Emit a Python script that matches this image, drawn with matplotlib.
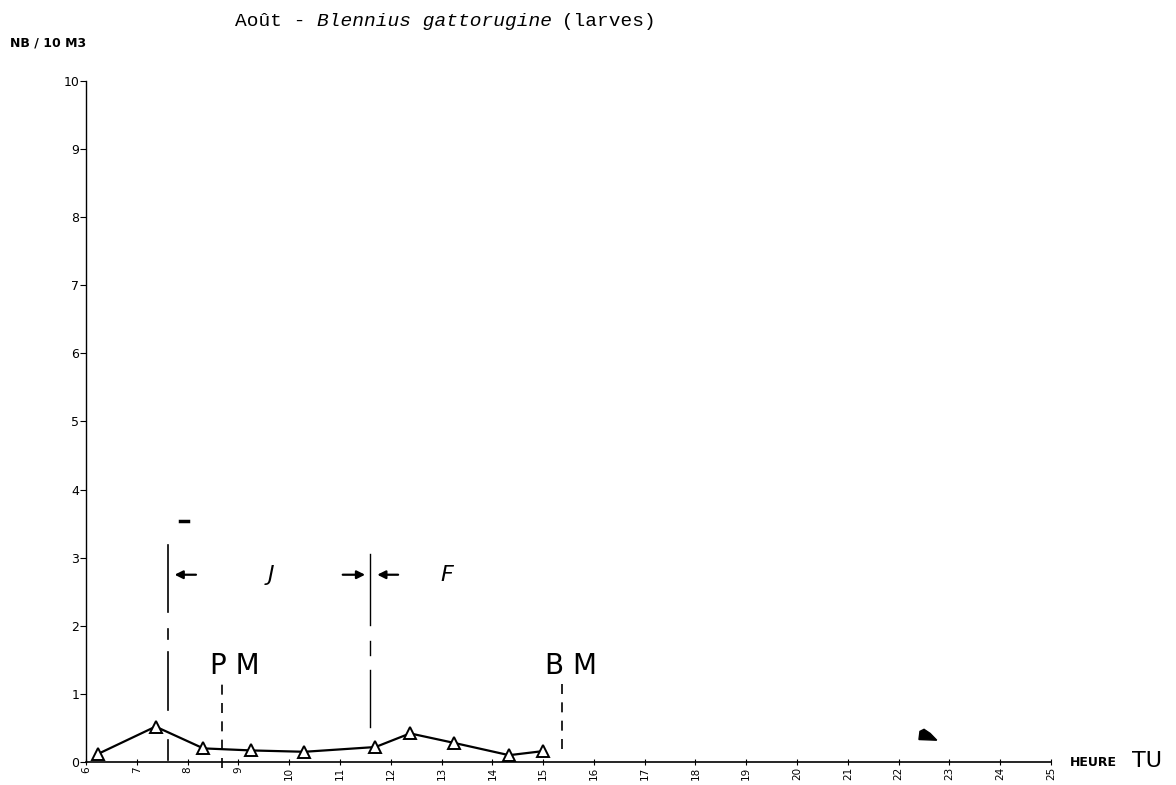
import matplotlib
matplotlib.use('Agg')
import matplotlib.pyplot as plt

# sampling times (heure TU) and larvae counts (NB / 10 m3)
hours = [6.24, 7.37, 8.31, 9.25, 10.3, 11.7, 12.38, 13.25, 14.33, 15.0]
counts = [0.12, 0.52, 0.2, 0.17, 0.15, 0.22, 0.42, 0.28, 0.1, 0.16]

x_ticks = list(range(6, 26))
y_ticks = list(range(0, 11))

# tide / day markers
day_start = 7.62      # J begins
night_start = 11.6    # F begins
high_tide = 8.68      # PM
low_tide = 15.37      # BM

W, H = 1176, 785
fig = plt.figure(figsize=(W / 100, H / 100), dpi=100)
ax = fig.add_axes([86 / W, 23 / H, 965 / W, 681 / H])

ax.plot(hours, counts, color='black', linewidth=1.6, marker='^', markersize=8,
        markerfacecolor='white', markeredgecolor='black', markeredgewidth=1.4,
        clip_on=False, zorder=3)

ax.set_xlim(6, 25)
ax.set_ylim(0, 10)
ax.set_xticks(x_ticks)
ax.set_yticks(y_ticks)
ax.set_xticklabels([str(h) for h in x_ticks], rotation=90, fontsize=7.5)
ax.set_yticklabels([str(v) for v in y_ticks], fontsize=9)
ax.tick_params(axis='x', direction='inout', length=5, width=0.8, pad=1)
ax.tick_params(axis='y', direction='out', length=4, width=0.8, pad=1)
for side in ['top', 'right']:
    ax.spines[side].set_visible(False)
ax.spines['left'].set_linewidth(1.0)
ax.spines['bottom'].set_linewidth(1.2)

# J and F boundaries (broken solid lines)
for y0, y1 in [(0.03, 0.32), (0.76, 1.61), (1.8, 1.95), (2.2, 3.19)]:
    ax.plot([day_start, day_start], [y0, y1], color='black', linewidth=1.2)
for y0, y1 in [(0.51, 1.35), (1.57, 1.77), (2.01, 3.05)]:
    ax.plot([night_start, night_start], [y0, y1], color='black', linewidth=1.0)

# PM / BM dashed lines
ax.plot([high_tide, high_tide], [-0.09, 1.22], color='black', linewidth=1.2,
        linestyle=(0, (6, 5)), clip_on=False)
ax.plot([low_tide, low_tide], [0.19, 1.17], color='black', linewidth=1.2,
        linestyle=(0, (6, 5)))

ax.text(8.93, 1.29, 'P M', fontsize=20, ha='center', va='baseline')
ax.text(15.54, 1.29, 'B M', fontsize=20, ha='center', va='baseline')

arrow = dict(arrowstyle='-|>', color='black', lw=1.6, mutation_scale=12)
ax.annotate('', xy=(7.69, 2.75), xytext=(8.22, 2.75), arrowprops=arrow)
ax.annotate('', xy=(11.55, 2.75), xytext=(11.0, 2.75), arrowprops=arrow)
ax.annotate('', xy=(11.68, 2.75), xytext=(12.2, 2.75), arrowprops=arrow)
ax.text(9.64, 2.75, 'J', fontsize=16, style='italic', ha='center', va='center')
ax.text(13.1, 2.75, 'F', fontsize=16, style='italic', ha='center', va='center')

# small marks present on the original sheet
ax.plot([7.86, 8.0], [3.54, 3.54], color='black', linewidth=2.5)
ax.fill([22.4, 22.42, 22.5, 22.62, 22.75], [0.33, 0.45, 0.48, 0.42, 0.32],
        color='black')

fig.text(10 / W, 1 - 43 / H, 'NB / 10 M3', fontsize=9, fontweight='bold',
         ha='left', va='center')

# title: monospaced, species name in italics
size = 14
char_w = size * 0.6 / 72 * 100 / W
x0, ty = 235 / W, 1 - 22 / H
parts = [('Août - ', 'normal'), ('Blennius gattorugine', 'italic'),
         (' (larves)', 'normal')]
for txt, st in parts:
    fig.text(x0, ty, txt, fontsize=size, family='Liberation Mono', style=st,
             ha='left', va='center')
    x0 += len(txt) * char_w

fig.text(1070 / W, 1 - 763 / H, 'HEURE', fontsize=9, fontweight='bold',
         ha='left', va='center')
fig.text(1132 / W, 1 - 761 / H, 'TU', fontsize=16, ha='left', va='center')

fig.savefig('out.png', dpi=100)
